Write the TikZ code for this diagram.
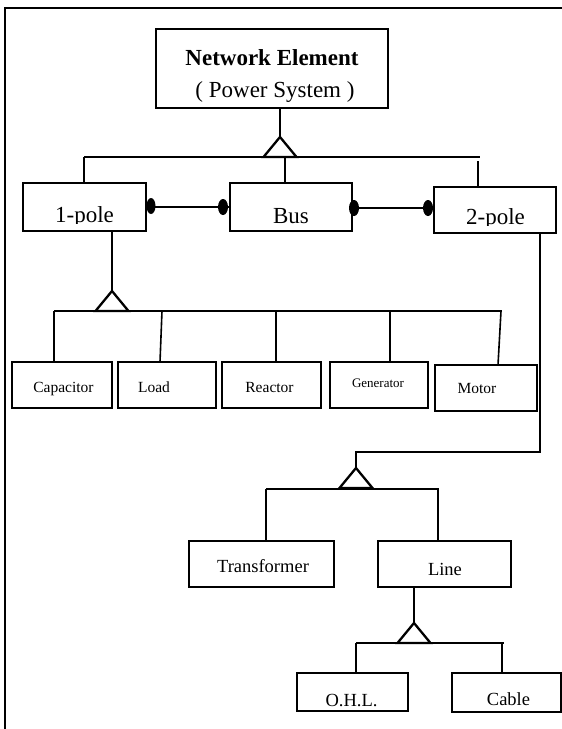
\documentclass[tikz,border=0pt]{standalone}
\usepackage{fontspec}
\setmainfont{Liberation Serif}
\newcommand\fT{\fontsize{23}{27}\selectfont}
\newcommand\fA{\fontsize{23}{27}\selectfont}
\newcommand\fB{\fontsize{15.5}{18}\selectfont}
\newcommand\fG{\fontsize{13}{15}\selectfont}
\newcommand\fC{\fontsize{18.5}{22}\selectfont}
\tikzset{
  box/.style={draw, line width=2.4pt, inner sep=0pt, outer sep=0pt, rectangle},
  ln/.style={line width=2.3pt},
  thinln/.style={line width=1.6pt},
  txt/.style={anchor=base, inner sep=0pt, outer sep=0pt},
}
% name, x1, y1, x2, y2, baseline, xshift, font, text
\newcommand\bx[9]{%
  \pgfmathsetmacro\cx{(#2+#4)/2}%
  \pgfmathsetmacro\cy{(#3+#5)/2}%
  \pgfmathsetmacro\bw{#4-#2}%
  \pgfmathsetmacro\bh{#5-#3}%
  \pgfmathsetmacro\th{2*(#6-\cy)}%
  \pgfmathsetmacro\sh{2*#7}%
  \node[box, minimum width=\bw pt, minimum height=\bh pt, text height=\th pt, text depth=0pt, font=#8] (#1) at (\cx,\cy) {\makebox[0pt]{\hspace*{\sh pt}#9}};%
}
\newcommand\tri[1]{\draw[ln, line join=miter] (#1) -- ++(-16.5,20) -- ++(33,0) -- cycle;}
\begin{document}
\begin{tikzpicture}[x=1pt, y=-1pt]
\useasboundingbox (0,0) rectangle (562,729);
% frame
\draw[line width=2.5pt] (5,729) -- (5,8) -- (562,8);

% root
\node[box, minimum width=232pt, minimum height=79pt] (ne) at (272,68.5) {};
\node[txt, font=\fT\bfseries] (neA) at (272,65) {Network Element};
\node[txt, font=\fT] (neB) at (275,97) {( Power System )};

% level 1
\bx{onepole}{23}{183}{146}{231}{222}{0}{\fA}{}
\bx{bus}{230}{183}{352}{231}{223}{0}{\fA}{Bus}
\bx{twopole}{434}{187}{556}{233}{225}{0}{\fA}{}
\begin{scope}
  \clip (23,183) rectangle (146,223.5);
  \node[txt, font=\fA] (onepoleT) at (84.5,222) {1-pole};
\end{scope}
\begin{scope}
  \clip (434,187) rectangle (556,225.8);
  \node[txt, font=\fA] (twopoleT) at (495.5,224.8) {2-pole};
\end{scope}

% level 2 (1-pole)
\bx{cap}{12}{362}{112}{408}{392}{1.5}{\fB}{Capacitor}
\bx{load}{118}{362}{216}{408}{392}{-13}{\fB}{Load}
\bx{reac}{222}{362}{321}{408}{392}{-2}{\fB}{Reactor}
\bx{gen}{330}{362}{428}{408}{387}{-1}{\fG}{Generator}
\bx{motor}{435}{365}{537}{411}{393}{-9}{\fB}{Motor}

% level 2 (2-pole)
\bx{trans}{189}{541}{334}{587}{572}{1.5}{\fC}{Transformer}
\bx{line}{378}{541}{511}{587}{575}{0.5}{\fC}{Line}

% level 3 (line)
\bx{ohl}{297}{673}{408}{711}{706}{-1}{\fC}{O.H.L.}
\bx{cable}{452}{673}{561}{712}{705}{2}{\fC}{Cable}

% associations with dots
\draw[ln] (onepole.east) -- (bus.west);
\draw[ln] ([yshift=-1pt]bus.east) -- ([yshift=-1pt]bus.east -| twopole.west);
\fill ([xshift=5pt,yshift=1pt]onepole.east) ellipse [x radius=4.5pt, y radius=8pt];
\fill ([xshift=-7pt]bus.west) ellipse [x radius=5pt, y radius=8pt];
\fill ([xshift=2pt,yshift=-1pt]bus.east) ellipse [x radius=5pt, y radius=8pt];
\fill ([xshift=-6pt,yshift=2pt]twopole.west) ellipse [x radius=5pt, y radius=8pt];

% root generalisation
\coordinate (a0) at (280,137);
\draw[ln] (ne.south -| a0) -- (a0);
\tri{a0}
\coordinate (b0L) at (84,157);
\coordinate (b0R) at (480,157);
\draw[ln] (b0L) -- (b0R);
\draw[ln] (b0L) -- (b0L |- onepole.north);
\draw[ln] (285,157) -- (bus.north -| 285,0);
\draw[ln] (478,161) -- (twopole.north -| 478,0);

% 1-pole generalisation
\coordinate (a1) at (112,291);
\draw[ln] (onepole.south -| a1) -- (a1);
\tri{a1}
\coordinate (b1L) at (54,311);
\coordinate (b1R) at (502,311);
\draw[ln] (b1L) -- (b1R);
\draw[ln] (b1L) -- (b1L |- cap.north);
\draw[thinln] (162,311) -- (load.north -| 160,0);
\draw[ln] (276,311) -- (reac.north -| 276,0);
\draw[ln] (390,311) -- (gen.north -| 390,0);
\draw[thinln] (501,311) -- (motor.north -| 498,0);

% 2-pole generalisation
\coordinate (k1) at (540,452);
\coordinate (a2) at (356,468);
\draw[ln] (twopole.south -| k1) -- (k1) -- (k1 -| a2) -- (a2);
\tri{a2}
\coordinate (b2L) at (266,489);
\coordinate (b2R) at (439,489);
\draw[ln] (b2L) -- (b2R);
\draw[ln] (b2L) -- (b2L |- trans.north);
\draw[ln] (438,489) -- (line.north -| 438,0);

% line generalisation
\coordinate (a3) at (414,623);
\draw[ln] (line.south -| a3) -- (a3);
\tri{a3}
\coordinate (b3L) at (356,643);
\coordinate (b3R) at (504,643);
\draw[ln] (b3L) -- (b3R);
\draw[ln] (b3L) -- (b3L |- ohl.north);
\draw[ln] (502,643) -- (cable.north -| 502,0);
\end{tikzpicture}
\end{document}
